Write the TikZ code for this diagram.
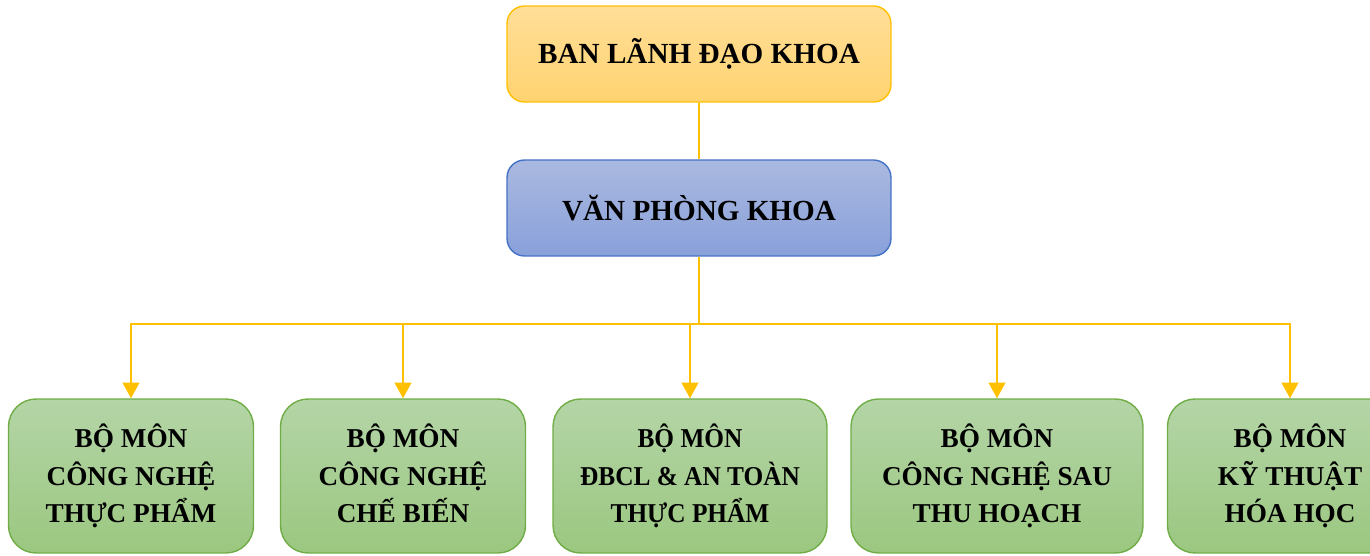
\documentclass[tikz,border=0pt]{standalone}
\usepackage{fontspec}
\setmainfont{Liberation Serif}
\newfontfamily\narrowserif[FakeStretch=0.93]{Liberation Serif}
\usepackage{tikz}
\usetikzlibrary{arrows.meta,positioning,calc}
\definecolor{leadTop}{RGB}{255,222,152}
\definecolor{leadBot}{RGB}{255,211,112}
\definecolor{leadLine}{RGB}{255,192,0}
\definecolor{officeTop}{RGB}{170,185,224}
\definecolor{officeBot}{RGB}{137,160,218}
\definecolor{officeLine}{RGB}{68,114,196}
\definecolor{deptTop}{RGB}{180,213,167}
\definecolor{deptBot}{RGB}{155,199,128}
\definecolor{deptLine}{RGB}{112,173,71}

\begin{document}
\begin{tikzpicture}[x=0.02cm,y=-0.02cm,
        font=\fontsize{15.5}{21.5}\selectfont\bfseries,
        lead/.style={draw=leadLine,line width=0.8pt,top color=leadTop,bottom color=leadBot,
                     rounded corners=0.35cm,minimum width=7.68cm,minimum height=1.92cm,
                     align=center,inner sep=2pt,font=\fontsize{16.6}{21.5}\selectfont\bfseries},
        office/.style={lead,draw=officeLine,top color=officeTop,bottom color=officeBot},
        dept/.style={lead,draw=deptLine,top color=deptTop,bottom color=deptBot,
                     rounded corners=0.55cm,minimum height=3.08cm,
                     font=\fontsize{15.5}{21.5}\selectfont\bfseries},
        link/.style={draw=leadLine,line width=1.4pt},
        arr/.style={link,-{Triangle[width=9.5pt,length=9pt]}}]
  \useasboundingbox (0,0) rectangle (1370,555);

  % upper levels
  \node[lead] (lead) at (699,54) {BAN LÃNH ĐẠO KHOA};
  \node[office] (office) at (699,208) {VĂN PHÒNG KHOA};

  % departments
  \node[dept,minimum width=4.9cm] (b1) at (131,476) {BỘ MÔN\\CÔNG NGHỆ\\THỰC PHẨM};
  \node[dept,minimum width=4.9cm] (b2) at (403,476) {BỘ MÔN\\CÔNG NGHỆ\\CHẾ BIẾN\vphantom{Ự}};
  \node[dept,minimum width=5.48cm,font=\fontsize{15.5}{21.5}\narrowserif\bfseries] (b3) at (690,476)
       {BỘ MÔN\\ĐBCL \& AN TOÀN\\THỰC PHẨM};
  \node[dept,minimum width=5.84cm] (b4) at (997,476)
       {BỘ MÔN\\CÔNG NGHỆ SAU\\THU HOẠCH};
  \node[dept,minimum width=4.9cm] (b5) at (1290,476) {BỘ MÔN\\KỸ THUẬT\\HÓA HỌC};

  % connectors
  \coordinate (bus) at (0,324);
  \draw[link] (lead.south) -- (office.north);
  \foreach \b in {b1,b2,b3,b4,b5}
    \draw[arr] (office.south) -- (office.south |- bus) -| (\b.north);
\end{tikzpicture}
\end{document}
